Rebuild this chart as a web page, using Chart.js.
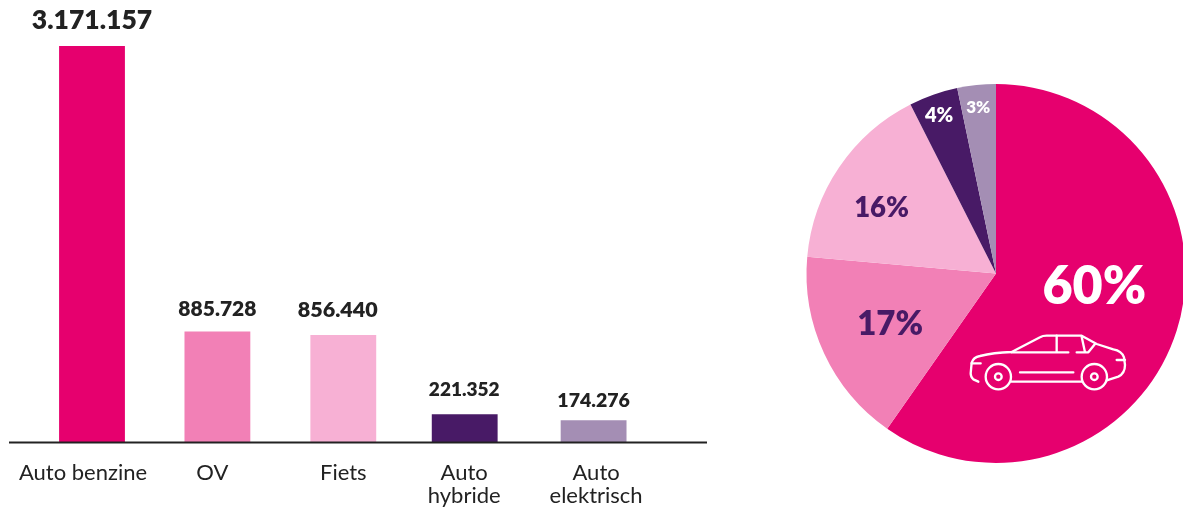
<!DOCTYPE html>
<html>
<head>
<meta charset="utf-8">
<script src="https://cdn.jsdelivr.net/npm/chart.js@4"></script>
<style>
  html, body { margin: 0; padding: 0; background: #fff; overflow: hidden; }
  #wrap { position: relative; width: 1183px; height: 508px; overflow: hidden; }
  canvas { position: absolute; top: 0; }
  #barChart { left: 0; }
  #pieChart { left: 796px; }
  #car { position: absolute; left: 950px; top: 320px; }
</style>
</head>
<body>
<div id="wrap">
  <canvas id="barChart"></canvas>
  <canvas id="pieChart"></canvas>
  <svg id="car" width="190" height="80" viewBox="0 0 570 240" fill="none" stroke="#fff" stroke-width="7" stroke-linecap="round" stroke-linejoin="round">
    <path d="M85 185 L70 178 Q62 172 62 160 L65 128 Q70 112 90 108 Q130 98 185 96 L270 52 Q278 47 290 47 L395 47 L440 72 L490 88 Q515 92 522 112 L525 135 Q525 160 505 170 L470 181"/>
    <path d="M185 185 H395 M185 97 H355 M320 47 V97 M380 97 H415 L435 72 M395 50 L405 97 M210 157 H370 M65 130 H92 M500 120 H525"/>
    <circle cx="145" cy="170" r="38"/>
    <circle cx="145" cy="170" r="10"/>
    <circle cx="433" cy="170" r="38"/>
    <circle cx="433" cy="170" r="10"/>
  </svg>
</div>
<script>
const categories = ["Auto benzine", "OV", "Fiets", ["Auto", "hybride"], ["Auto", "elektrisch"]];
const reizigers = [3171157, 885728, 856440, 221352, 174276];
const percentLabels = ["60%", "17%", "16%", "4%", "3%"];
const colors = ["#E6006E", "#F280B6", "#F7B0D4", "#481A66", "#A48EB4"];

const FONT = "Lato, sans-serif";
const DARK = "#222222";

// value labels above the bars: nudge from bar centre, distance above bar, font size
const valueStyle = [
  { dx: 0, dy: 26, size: 26.5 },
  { dx: 0, dy: 22, size: 21 },
  { dx: -5, dy: 25, size: 21.5 },
  { dx: -4, dy: 24, size: 19 },
  { dx: 0, dy: 20, size: 19.5 },
];
// the category labels don't sit exactly under the bars in the original
const tickNudge = [-9, -5, 0.5, -4, 2.5];
// bars aren't evenly spaced either, hybride sits a bit to the left
const barNudge = [0, 0, 0.5, -3.5, 0];

const barLabels = {
  id: "barLabels",
  afterDatasetsUpdate(chart) {
    chart.getDatasetMeta(0).data.forEach((bar, i) => {
      bar.x += barNudge[i];
    });
  },
  afterDraw(chart) {
    const ctx = chart.ctx;
    const x = chart.scales.x;
    const y = chart.scales.y;
    const base = y.getPixelForValue(0);

    // axis line, runs past the plot area on both sides
    ctx.save();
    ctx.strokeStyle = DARK;
    ctx.lineWidth = 1.8;
    ctx.beginPath();
    ctx.moveTo(9, base + 0.5);
    ctx.lineTo(707, base + 0.5);
    ctx.stroke();

    ctx.textAlign = "center";
    ctx.textBaseline = "middle";
    ctx.fillStyle = DARK;
    reizigers.forEach((v, i) => {
      const st = valueStyle[i];
      ctx.font = "800 " + st.size + "px " + FONT;
      ctx.fillText(v.toLocaleString("nl-NL"), x.getPixelForValue(i) + st.dx, y.getPixelForValue(v) - st.dy);
    });

    ctx.font = "400 22px " + FONT;
    categories.forEach((c, i) => {
      const lines = Array.isArray(c) ? c : [c];
      lines.forEach((line, j) => {
        ctx.fillText(line, x.getPixelForValue(i) + tickNudge[i], base + 31 + j * 23);
      });
    });
    ctx.restore();
  },
};

const barCanvas = document.getElementById("barChart");
barCanvas.width = 760;
barCanvas.height = 508;
new Chart(barCanvas, {
  type: "bar",
  data: {
    labels: categories,
    datasets: [{ data: reizigers, backgroundColor: colors, barPercentage: 1, categoryPercentage: 0.525 }],
  },
  options: {
    responsive: false,
    animation: false,
    layout: { padding: { left: 29.3, right: 103.7, top: 46, bottom: 66 } },
    plugins: { legend: { display: false }, tooltip: { enabled: false } },
    scales: {
      x: { display: false },
      y: { display: false, min: 0, max: 3171157 },
    },
  },
  plugins: [barLabels],
});

// percent labels: offset from the arc centre point, size, colour
const pctStyle = [
  { dx: 8, dy: -15, size: 52, color: "#fff" },
  { dx: -20, dy: 10.5, size: 33, color: "#481A66" },
  { dx: -36, dy: -12.5, size: 27.5, color: "#481A66" },
  { dx: -25.5, dy: -69, size: 20, color: "#fff" },
  { dx: -8, dy: -71.5, size: 17, color: "#fff" },
];

const pieLabels = {
  id: "pieLabels",
  afterDraw(chart) {
    const ctx = chart.ctx;
    ctx.save();
    ctx.textAlign = "center";
    ctx.textBaseline = "middle";
    chart.getDatasetMeta(0).data.forEach((arc, i) => {
      const p = arc.getCenterPoint();
      const st = pctStyle[i];
      ctx.font = "800 " + st.size + "px " + FONT;
      ctx.fillStyle = st.color;
      ctx.fillText(percentLabels[i], p.x + st.dx, p.y + st.dy);
    });
    ctx.restore();
  },
};

const pieCanvas = document.getElementById("pieChart");
pieCanvas.width = 400;
pieCanvas.height = 508;
new Chart(pieCanvas, {
  type: "pie",
  data: {
    labels: categories,
    datasets: [{ data: reizigers, backgroundColor: colors, borderWidth: 0 }],
  },
  options: {
    responsive: false,
    animation: false,
    layout: { padding: { top: 84, bottom: 45 } },
    plugins: { legend: { display: false }, tooltip: { enabled: false } },
  },
  plugins: [pieLabels],
});
</script>
</body>
</html>
